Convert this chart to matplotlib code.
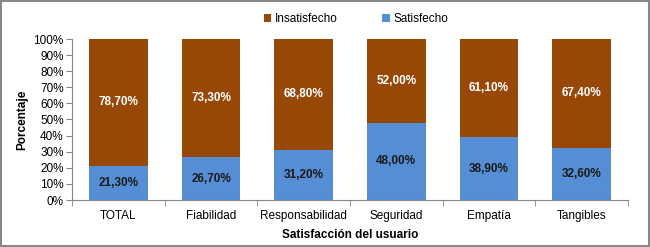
import matplotlib
matplotlib.use("Agg")
import matplotlib.pyplot as plt
import numpy as np

categories = ["TOTAL", "Fiabilidad", "Responsabilidad", "Seguridad", "Empatía", "Tangibles"]
satisfecho = [21.30, 26.70, 31.20, 48.00, 38.90, 32.60]
insatisfecho = [78.70, 73.30, 68.80, 52.00, 61.10, 67.40]

plt.rcParams['font.family'] = ['Liberation Sans', 'DejaVu Sans']

fig = plt.figure(figsize=(6.5, 2.47), dpi=100)
ax = fig.add_axes([72/650, 1 - 200/247, (628-72)/650, (200-39)/247])

x = np.arange(len(categories))
w = 0.63
blue = "#558ED5"
brown = "#974706"
b1 = ax.bar(x, satisfecho, w, color=blue, label="Satisfecho", zorder=2)
b2 = ax.bar(x, insatisfecho, w, bottom=satisfecho, color=brown, label="Insatisfecho", zorder=2)

for i in range(len(x)):
    ax.text(x[i], satisfecho[i]/2, f"{satisfecho[i]:.2f}%".replace(".", ","),
            ha="center", va="center", fontsize=8.5, fontweight="bold", color="#1a1a1a")
    ax.text(x[i], satisfecho[i] + insatisfecho[i]/2, f"{insatisfecho[i]:.2f}%".replace(".", ","),
            ha="center", va="center", fontsize=8.5, fontweight="bold", color="white")

ax.set_xlim(-0.5, len(x) - 0.5)
ax.set_ylim(0, 100)
ax.set_yticks(np.arange(0, 101, 10))
ax.set_yticklabels([f"{v}%" for v in range(0, 101, 10)], fontsize=8.5)
ax.set_xticks(x)
ax.set_xticklabels(categories, fontsize=8.5)
ax.tick_params(axis="x", length=0, pad=7)
ax.set_xticks(np.arange(-0.5, len(x), 1), minor=True)
ax.tick_params(axis="x", which="minor", length=4, color="#888888")
ax.tick_params(axis="y", length=4, color="#888888", pad=2)
for s in ["top", "right"]:
    ax.spines[s].set_visible(False)
ax.spines["left"].set_color("#888888")
ax.spines["bottom"].set_color("#888888")

ax.set_xlabel("Satisfacción del usuario", fontsize=8.5, fontweight="bold", labelpad=5)
ax.set_ylabel("Porcentaje", fontsize=8.5, fontweight="bold", labelpad=4)

handles = [b2, b1]
fig.legend(handles, ["Insatisfecho", "Satisfecho"], loc="center", bbox_to_anchor=(356/650, 1 - 19/247),
           ncol=2, frameon=False, fontsize=8.5, handlelength=0.6, handleheight=0.6,
           handletextpad=0.3, columnspacing=3.8)

fig.patches.append(plt.Rectangle((0.002, 0.004), 0.996, 0.992, transform=fig.transFigure,
                                 fill=False, edgecolor="#888888", linewidth=1.5))

fig.savefig("out.png", dpi=100)
